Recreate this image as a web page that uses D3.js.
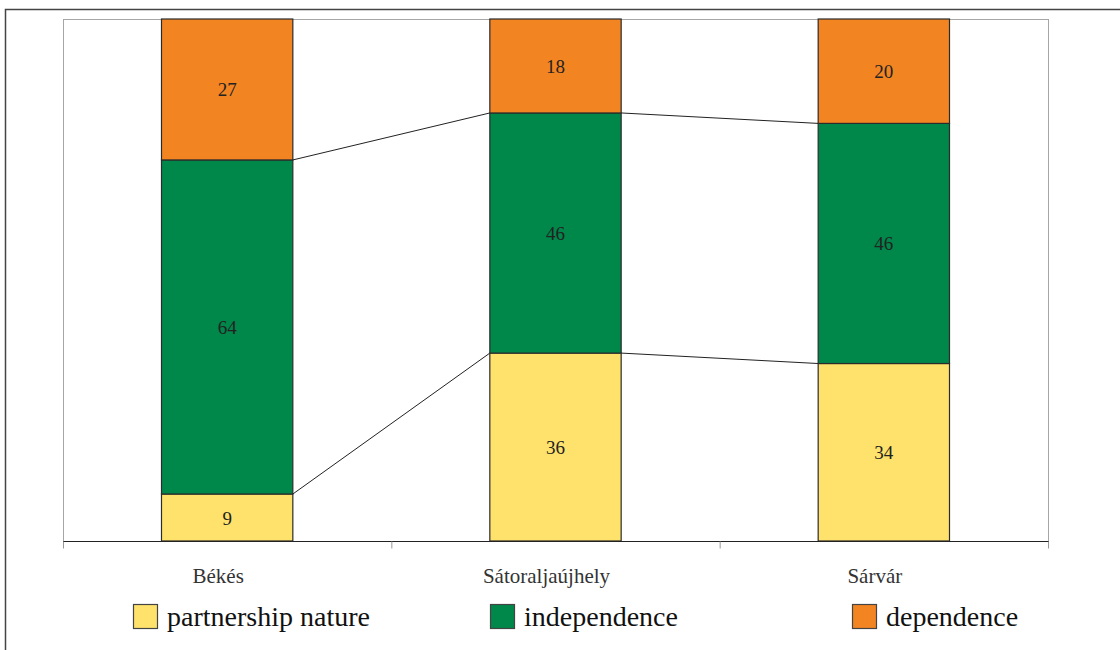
<!DOCTYPE html>
<html><head><meta charset="utf-8">
<script src="https://cdn.jsdelivr.net/npm/d3@7"></script>
</head><body style="margin:0">
<svg id="c" width="1120" height="650"></svg>
<script>
const categories = ["Békés", "Sátoraljaújhely", "Sárvár"];
const seriesNames = ["partnership nature", "independence", "dependence"];
const partnership = [9, 36, 34];
const independence = [64, 46, 46];
const dependence = [27, 18, 20];
const colors = ["#FFE26B", "#00874A", "#F38422"];

const FONT = '"Liberation Serif"';
const svg = d3.select("#c");
const L = 63, R = 1048, T = 19, B = 541;

svg.append("path").attr("d", "M5.5,650 L5.5,9.5 L1120,9.5").attr("fill", "none").attr("stroke", "#444").attr("stroke-width", 1.5);

const x = d3.scaleBand().domain(categories).range([L, R]).paddingInner(0).paddingOuter(0);
const y = d3.scaleLinear().domain([0, 100]).range([B, T]);
const bw = x.bandwidth() * 0.4;

svg.append("rect").attr("x", L + 0.5).attr("y", T + 0.5).attr("width", R - L).attr("height", B - T)
  .attr("fill", "none").attr("stroke", "#a6a6a6").attr("stroke-width", 1);

const rows = categories.map((c, i) => ({cat: c, "partnership nature": partnership[i], independence: independence[i], dependence: dependence[i]}));
const stack = d3.stack().keys(seriesNames)(rows);

stack.forEach((layer, si) => {
  if (si === stack.length - 1) return;
  for (let i = 0; i < categories.length - 1; i++) {
    const x1 = x(categories[i]) + x.bandwidth() / 2 + bw / 2;
    const x2 = x(categories[i + 1]) + x.bandwidth() / 2 - bw / 2;
    svg.append("line").attr("x1", x1).attr("x2", x2)
      .attr("y1", y(layer[i][1])).attr("y2", y(layer[i + 1][1]))
      .attr("stroke", "#222").attr("stroke-width", 1);
  }
});

stack.forEach((layer, si) => {
  const g = svg.append("g");
  g.selectAll("rect").data(layer).join("rect")
    .attr("x", (d, i) => x(categories[i]) + x.bandwidth() / 2 - bw / 2)
    .attr("y", d => y(d[1]))
    .attr("width", bw)
    .attr("height", d => y(d[0]) - y(d[1]))
    .attr("fill", colors[si]).attr("stroke", "#2b2b2b").attr("stroke-width", 1.2);
  g.selectAll("text").data(layer).join("text")
    .attr("x", (d, i) => x(categories[i]) + x.bandwidth() / 2)
    .attr("y", d => (y(d[0]) + y(d[1])) / 2 + 7)
    .attr("text-anchor", "middle")
    .attr("font-size", 19)
    .style("font-family", FONT).attr("fill", "#222")
    .text(d => d[1] - d[0]);
});

const ax = svg.append("g").attr("transform", `translate(0,${B + 0.5})`);
ax.append("line").attr("x1", L).attr("x2", R + 1).attr("stroke", "#222").attr("stroke-width", 1.2);
const tickXs = [L, ...categories.map(c => x(c) + x.bandwidth())];
ax.selectAll(".tk").data(tickXs).join("line").attr("class", "tk")
  .attr("x1", d => d + 0.5).attr("x2", d => d + 0.5).attr("y1", 0).attr("y2", 7)
  .attr("stroke", "#999");
svg.selectAll(".cl").data(categories).join("text").attr("class", "cl")
  .attr("x", c => x(c) + x.bandwidth() / 2 - 9)
  .attr("y", 583)
  .attr("text-anchor", "middle")
  .attr("font-size", 21)
  .style("font-family", FONT).attr("fill", "#333")
  .text(c => c);

const legX = [133, 490, 852];
seriesNames.forEach((s, i) => {
  svg.append("rect").attr("x", legX[i] + 0.5).attr("y", 604.5).attr("width", 24).attr("height", 24)
    .attr("fill", colors[i]).attr("stroke", "#444").attr("stroke-width", 1.2);
  svg.append("text").attr("x", legX[i] + 34).attr("y", 626)
    .attr("font-size", 28)
    .style("font-family", FONT).attr("fill", "#111")
    .text(s);
});
</script>
</body></html>
